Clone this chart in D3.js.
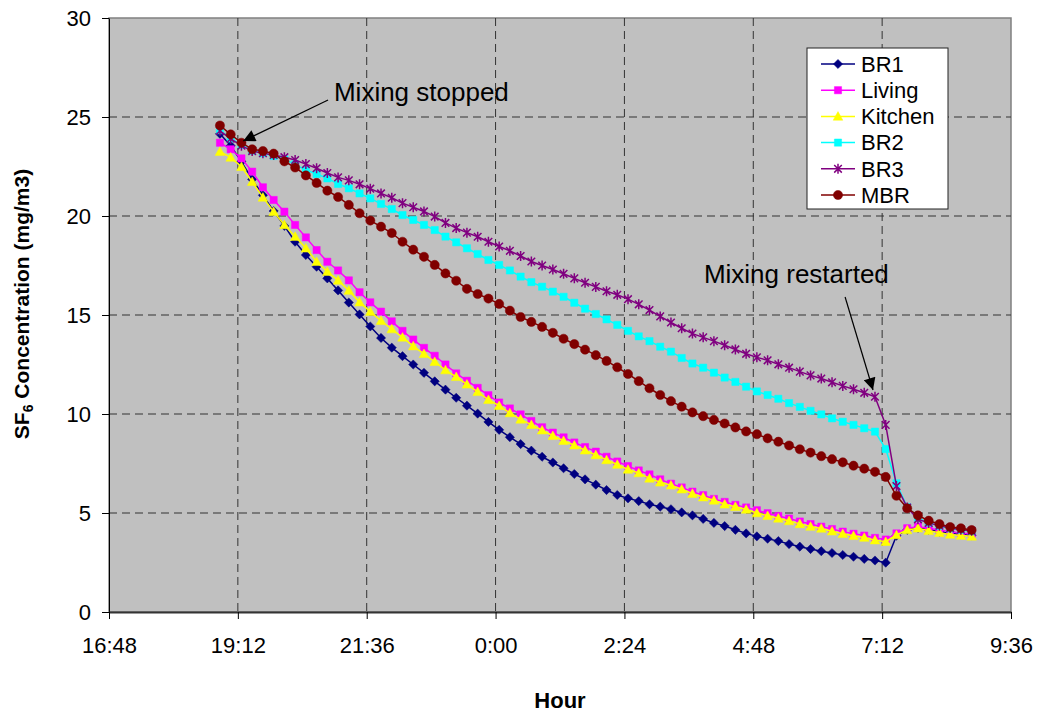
<!DOCTYPE html>
<html>
<head>
<meta charset="utf-8">
<script src="https://cdn.jsdelivr.net/npm/d3@7"></script>
<style>
  body { margin: 0; background: #fff; }
  svg text { font-family: Arial, "Liberation Sans", sans-serif; fill: #000; }
</style>
</head>
<body>
<div id="chart"></div>
<script>
// readings every 12 minutes, 18:52 to 8:52 next morning
var hours = ["18:52","19:04","19:16","19:28","19:40","19:52","20:04","20:16","20:28","20:40",
  "20:52","21:04","21:16","21:28","21:40","21:52","22:04","22:16","22:28","22:40",
  "22:52","23:04","23:16","23:28","23:40","23:52","0:04","0:16","0:28","0:40",
  "0:52","1:04","1:16","1:28","1:40","1:52","2:04","2:16","2:28","2:40",
  "2:52","3:04","3:16","3:28","3:40","3:52","4:04","4:16","4:28","4:40",
  "4:52","5:04","5:16","5:28","5:40","5:52","6:04","6:16","6:28","6:40",
  "6:52","7:04","7:16","7:28","7:40","7:52","8:04","8:16","8:28","8:40","8:52"];

var br1 = [24.15,23.55,22.75,21.85,21.05,20.25,19.5,18.7,18.03,17.44,
  16.85,16.24,15.63,15.03,14.42,13.84,13.35,12.92,12.5,12.08,
  11.65,11.23,10.82,10.42,10.02,9.6,9.2,8.83,8.48,8.15,
  7.84,7.55,7.26,6.97,6.7,6.43,6.16,5.91,5.74,5.6,
  5.44,5.32,5.19,5.03,4.88,4.7,4.5,4.34,4.15,3.97,
  3.82,3.7,3.58,3.43,3.3,3.18,3.07,2.98,2.88,2.79,
  2.68,2.6,2.49,3.85,4.15,4.25,4.15,4.05,3.98,3.92,3.88];

var living = [23.7,23.37,22.91,22.24,21.45,20.81,20.22,19.55,18.92,18.28,
  17.69,17.25,16.75,16.15,15.64,15.17,14.68,14.2,13.76,13.34,
  12.94,12.5,12.05,11.68,11.32,10.95,10.58,10.28,9.98,9.65,
  9.33,9.06,8.82,8.56,8.33,8.1,7.84,7.6,7.37,7.15,
  6.95,6.7,6.48,6.29,6.08,5.9,5.71,5.56,5.41,5.28,
  5.14,4.99,4.85,4.72,4.57,4.44,4.31,4.19,4.06,3.95,
  3.86,3.74,3.66,3.97,4.23,4.31,4.23,4.14,4.06,3.98,3.95];

var kitchen = [23.25,22.96,22.49,21.73,20.94,20.22,19.55,18.96,18.37,17.69,
  17.19,16.75,16.24,15.65,15.17,14.71,14.29,13.87,13.43,13.04,
  12.64,12.22,11.88,11.5,11.12,10.72,10.42,10.05,9.73,9.46,
  9.18,8.9,8.65,8.42,8.17,7.93,7.68,7.45,7.2,7.02,
  6.75,6.55,6.4,6.2,5.98,5.8,5.64,5.44,5.32,5.18,
  5.0,4.86,4.73,4.6,4.45,4.32,4.22,4.08,3.95,3.85,
  3.76,3.63,3.55,3.89,4.14,4.23,4.1,4.0,3.92,3.86,3.82];

var br2 = [24.33,23.92,23.59,23.3,23.17,23.03,22.86,22.61,22.32,22.12,
  21.9,21.62,21.4,21.14,20.89,20.61,20.35,20.05,19.8,19.55,
  19.29,18.96,18.67,18.37,18.08,17.78,17.53,17.25,16.94,16.66,
  16.43,16.18,15.92,15.62,15.32,15.05,14.78,14.5,14.2,13.92,
  13.68,13.4,13.15,12.83,12.55,12.34,12.09,11.84,11.62,11.38,
  11.14,10.96,10.77,10.55,10.36,10.16,9.98,9.78,9.61,9.45,
  9.28,9.11,8.23,6.5,5.3,4.75,4.5,4.35,4.22,4.15,4.08];

var br3 = [24.3,23.9,23.55,23.28,23.17,23.08,22.97,22.83,22.62,22.41,
  22.17,21.95,21.8,21.6,21.38,21.14,20.92,20.65,20.44,20.23,
  19.97,19.65,19.39,19.16,18.95,18.7,18.46,18.24,17.98,17.7,
  17.5,17.3,17.08,16.85,16.63,16.42,16.2,16.02,15.8,15.54,
  15.25,14.93,14.62,14.33,14.06,13.87,13.68,13.47,13.26,13.04,
  12.86,12.71,12.51,12.34,12.14,11.95,11.79,11.6,11.42,11.25,
  11.07,10.87,9.45,6.36,5.28,4.68,4.5,4.36,4.24,4.16,4.1];

var mbr = [24.57,24.12,23.7,23.37,23.28,23.15,22.76,22.45,22.05,21.67,
  21.28,20.96,20.56,20.14,19.77,19.46,19.14,18.7,18.3,17.94,
  17.53,17.1,16.73,16.32,16.06,15.83,15.56,15.22,14.9,14.65,
  14.4,14.1,13.8,13.53,13.25,12.97,12.68,12.36,12.02,11.66,
  11.3,10.96,10.65,10.37,10.08,9.89,9.7,9.52,9.32,9.12,
  8.98,8.77,8.6,8.41,8.22,8.05,7.87,7.72,7.56,7.39,
  7.24,7.08,6.82,5.87,5.24,4.88,4.61,4.44,4.29,4.23,4.14];

var seriesNames = ["BR1", "Living", "Kitchen", "BR2", "BR3", "MBR"];
var xTickLabels = ["16:48","19:12","21:36","0:00","2:24","4:48","7:12","9:36"];
var yTicks = [0, 5, 10, 15, 20, 25, 30];

var width = 1038
var height = 713

function toHours(s) {
  var p = s.split(":");
  var h = +p[0] + (+p[1]) / 60;
  return h < 12 ? h + 24 : h;   // after midnight belongs to the next day
}

var x = d3.scaleLinear()
  .domain([toHours(xTickLabels[0]), toHours(xTickLabels[xTickLabels.length - 1])])
  .range([109, 1011]);

var y = d3.scaleLinear()
  .domain([0, 30])
  .range([612, 18]);

var svg = d3.select("#chart")
  .append("svg")
  .attr("width", width)
  .attr("height", height)

// plot area
svg.append("rect")
  .attr("x", x.range()[0])
  .attr("y", y.range()[1])
  .attr("width", x.range()[1] - x.range()[0])
  .attr("height", y.range()[0] - y.range()[1])
  .attr("fill", "#C0C0C0")
  .attr("stroke", "#808080")
  .attr("stroke-width", 1.5)

// dashed grid
var grid = svg.append("g").attr("stroke", "#333").attr("stroke-width", 1).attr("stroke-dasharray", "8,5")
grid.selectAll(".hg")
  .data(yTicks.slice(1, -1))
  .enter().append("line")
  .attr("x1", x.range()[0]).attr("x2", x.range()[1])
  .attr("y1", function (d) { return y(d) }).attr("y2", function (d) { return y(d) })
grid.selectAll(".vg")
  .data(xTickLabels.slice(1, -1))
  .enter().append("line")
  .attr("y1", y.range()[1]).attr("y2", y.range()[0])
  .attr("x1", function (d) { return x(toHours(d)) }).attr("x2", function (d) { return x(toHours(d)) })

// axes
var yAxis = svg.append("g")
  .attr("transform", "translate(" + x.range()[0] + ",0)")
  .call(d3.axisLeft(y).tickValues(yTicks).tickSize(7).tickPadding(11).tickSizeOuter(0))
yAxis.select(".domain").attr("stroke", "#000")
yAxis.selectAll("line").attr("stroke", "#000")
yAxis.selectAll("text").style("font-size", "22px").attr("dy", "0.36em")

var xAxis = svg.append("g")
  .attr("transform", "translate(0," + y.range()[0] + ")")
  .call(d3.axisBottom(x)
    .tickValues(xTickLabels.map(toHours))
    .tickFormat(function (d, i) { return xTickLabels[i] })
    .tickSize(7).tickSizeOuter(0))
xAxis.select(".domain").attr("stroke", "#333").attr("stroke-width", 2)
xAxis.selectAll("line").attr("stroke", "#000")
xAxis.selectAll("text").style("font-size", "22px").attr("y", 41).attr("dy", 0)

// axis titles
svg.append("text")
  .attr("x", (x.range()[0] + x.range()[1]) / 2)
  .attr("y", 708)
  .attr("text-anchor", "middle")
  .style("font-size", "22px")
  .style("font-weight", "bold")
  .text("Hour")

var yTitle = svg.append("text")
  .attr("transform", "translate(29,304) rotate(-90)")
  .attr("text-anchor", "middle")
  .style("font-size", "21px")
  .style("font-weight", "bold")
yTitle.append("tspan").text("SF")
yTitle.append("tspan").attr("baseline-shift", "-25%").style("font-size", "14px").text("6")
yTitle.append("tspan").text(" Concentration (mg/m3)")

// series
var styles = {
  "BR1": { color: "#000080", marker: "diamond" },
  "Living": { color: "#FF00FF", marker: "square" },
  "Kitchen": { color: "#FFFF00", marker: "triangle" },
  "BR2": { color: "#00FFFF", marker: "square" },
  "BR3": { color: "#800080", marker: "star" },
  "MBR": { color: "#800000", marker: "circle" }
}
var seriesValues = [br1, living, kitchen, br2, br3, mbr]

function markerPath(kind) {
  if (kind == "diamond") return "M0,-4.6L4.6,0L0,4.6L-4.6,0Z";
  if (kind == "square") return "M-3.6,-3.6H3.6V3.6H-3.6Z";
  if (kind == "triangle") return "M0,-4.8L4.8,3.8L-4.8,3.8Z";
  if (kind == "star") return "M-3.8,-3.8L3.8,3.8M-3.8,3.8L3.8,-3.8M0,-5V5";
  return d3.symbol().type(d3.symbolCircle).size(Math.PI * 4.6 * 4.6)();
}

var line = d3.line()
  .x(function (d) { return x(d.t) })
  .y(function (d) { return y(d.v) })

seriesNames.forEach(function (name, i) {
  var st = styles[name]
  var pts = hours.map(function (h, j) { return { t: toHours(h), v: seriesValues[i][j] } })
  var g = svg.append("g").attr("class", "series")
  g.append("path")
    .datum(pts)
    .attr("d", line)
    .attr("fill", "none")
    .attr("stroke", st.color)
    .attr("stroke-width", 1.5)
  g.selectAll(".m")
    .data(pts)
    .enter().append("path")
    .attr("transform", function (d) { return "translate(" + x(d.t) + "," + y(d.v) + ")" })
    .attr("d", markerPath(st.marker))
    .attr("fill", st.marker == "star" ? "none" : st.color)
    .attr("stroke", st.color)
    .attr("stroke-width", st.marker == "star" ? 1.5 : 0.5)
})

// legend
var legend = svg.append("g").attr("transform", "translate(807,48)")
legend.append("rect")
  .attr("width", 141).attr("height", 161)
  .attr("fill", "#fff").attr("stroke", "#222").attr("stroke-width", 1)
seriesNames.forEach(function (name, i) {
  var st = styles[name]
  var row = legend.append("g").attr("transform", "translate(0," + (16 + i * 26.2) + ")")
  row.append("line").attr("x1", 14).attr("x2", 48).attr("stroke", st.color).attr("stroke-width", 1.5)
  row.append("path")
    .attr("transform", "translate(31,0)")
    .attr("d", markerPath(st.marker))
    .attr("fill", st.marker == "star" ? "none" : st.color)
    .attr("stroke", st.color)
    .attr("stroke-width", st.marker == "star" ? 1.5 : 0.5)
  row.append("text").attr("x", 54).attr("y", 7.8).style("font-size", "22px").text(name)
})

// annotations (positions in data units)
var notes = [
  { text: "Mixing stopped", tx: 20.99, ty: 25.81, x1: 20.88, y1: 25.86, x2: 19.30, y2: 23.79 },
  { text: "Mixing restarted", tx: 27.88, ty: 16.62, x1: 30.51, y1: 15.91, x2: 31.03, y2: 11.21 }
]

svg.append("defs").append("marker")
  .attr("id", "arrow")
  .attr("viewBox", "0 0 10 10")
  .attr("refX", 10).attr("refY", 5)
  .attr("markerUnits", "userSpaceOnUse")
  .attr("markerWidth", 14).attr("markerHeight", 12)
  .attr("orient", "auto")
  .append("path").attr("d", "M0,0L10,5L0,10Z").attr("fill", "#000")

notes.forEach(function (n) {
  svg.append("line")
    .attr("x1", x(n.x1)).attr("y1", y(n.y1))
    .attr("x2", x(n.x2)).attr("y2", y(n.y2))
    .attr("stroke", "#000").attr("stroke-width", 1.2)
    .attr("marker-end", "url(#arrow)")
  svg.append("text")
    .attr("x", x(n.tx)).attr("y", y(n.ty))
    .style("font-size", "26px")
    .text(n.text)
})
</script>
</body>
</html>
